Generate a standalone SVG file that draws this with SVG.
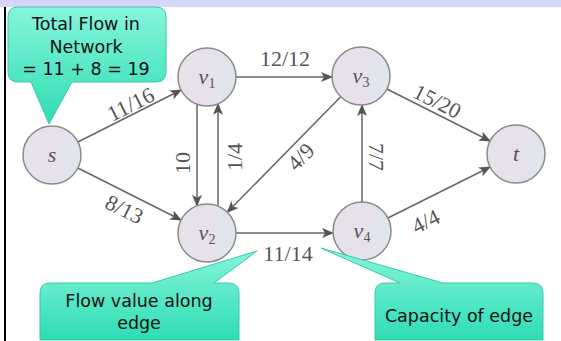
<svg xmlns="http://www.w3.org/2000/svg" width="561" height="341" viewBox="0 0 561 341">
<defs>
<marker id="arr" viewBox="0 0 12 10" refX="11" refY="5" markerWidth="13" markerHeight="10" markerUnits="userSpaceOnUse" orient="auto">
<path d="M0,0 L12,5 L0,10 L3,5 Z" fill="#555"/>
</marker>
<linearGradient id="teal" x1="0" y1="0" x2="0" y2="1">
<stop offset="0" stop-color="#86f5dc"/>
<stop offset="1" stop-color="#2edcb4"/>
</linearGradient>
<linearGradient id="nodeg" x1="0" y1="0" x2="1" y2="0">
<stop offset="0" stop-color="#e6e2ea"/>
<stop offset="0.5" stop-color="#e8e0ec"/>
<stop offset="1" stop-color="#dde6ee"/>
</linearGradient>
<style>
.node{fill:url(#nodeg);stroke:#8a8a8a;stroke-width:1.5}
.nl{font-family:"Liberation Serif",serif;font-style:italic;font-size:22px;fill:#555;text-anchor:middle}
.sub{font-size:14px;font-style:normal}
.edge{stroke:#666;stroke-width:1.5;fill:none;marker-end:url(#arr)}
.el{font-family:"Liberation Serif",serif;font-size:22px;fill:#555;text-anchor:middle}
.call{fill:url(#teal);stroke:#3cc8a8;stroke-width:1}
.ct{font-family:"Comic Sans MS","DejaVu Sans",sans-serif;font-size:17.5px;fill:#111;text-anchor:middle}
</style>
</defs>
<rect x="0" y="0" width="561" height="341" fill="#fff"/>
<rect x="0" y="0" width="561" height="7" fill="#d6d6fa"/>
<rect x="4" y="7" width="2" height="334" fill="#000"/>

<g id="connectors">
<line class="edge" x1="77.9" y1="142" x2="181.1" y2="90"/>
<line class="edge" x1="77.9" y1="168" x2="181.1" y2="220"/>
<line class="edge" x1="236" y1="77" x2="332" y2="77"/>
<line class="edge" x1="197" y1="104.2" x2="197" y2="205.8"/>
<line class="edge" x1="218" y1="206.2" x2="218" y2="103.8"/>
<line class="edge" x1="340.7" y1="96.7" x2="227.3" y2="212.3"/>
<line class="edge" x1="386.9" y1="89" x2="490.1" y2="141"/>
<line class="edge" x1="362" y1="202" x2="362" y2="105"/>
<line class="edge" x1="236" y1="233" x2="333" y2="233"/>
<line class="edge" x1="387.9" y1="218" x2="490.1" y2="167"/>
<text class="el" transform="translate(134,111) rotate(-26.7)">11/16</text>
<text class="el" transform="translate(121,216) rotate(26.7)">8/13</text>
<text class="el" x="285" y="66">12/12</text>
<text class="el" transform="translate(190,163) rotate(-90)">10</text>
<text class="el" transform="translate(242,157) rotate(-90)">1/4</text>
<text class="el" transform="translate(306,162) rotate(-45.6)">4/9</text>
<text class="el" transform="translate(434,108) rotate(26.7)">15/20</text>
<text class="el" transform="translate(369,157) rotate(90)">7/7</text>
<text class="el" x="288" y="261">11/14</text>
<text class="el" transform="translate(429,228) rotate(-26.6)">4/4</text>
</g>

<g id="s"><circle class="node" cx="52" cy="155" r="29"/><text class="nl" x="52" y="162">s</text></g>
<g id="v1"><circle class="node" cx="207" cy="77" r="29"/><text class="nl" x="207" y="84">v<tspan class="sub" dy="4">1</tspan></text></g>
<g id="v3"><circle class="node" cx="361" cy="76" r="29"/><text class="nl" x="361" y="83">v<tspan class="sub" dy="4">3</tspan></text></g>
<g id="t"><circle class="node" cx="516" cy="154" r="29"/><text class="nl" x="516" y="161">t</text></g>
<g id="v2"><circle class="node" cx="207" cy="233" r="29"/><text class="nl" x="207" y="240">v<tspan class="sub" dy="4">2</tspan></text></g>
<g id="v4"><circle class="node" cx="362" cy="231" r="29"/><text class="nl" x="362" y="238">v<tspan class="sub" dy="4">4</tspan></text></g>

<g id="callout-total">
<path class="call" d="M18,7 H156 Q166,7 166,17 V72 Q166,82 156,82 H72 L49,124 L31,82 H18 Q8,82 8,72 V17 Q8,7 18,7 Z"/>
<text class="ct" x="86" y="30">Total Flow in</text>
<text class="ct" x="86" y="53">Network</text>
<text class="ct" x="86" y="75">= 11 + 8 = 19</text>
</g>
<g id="callout-flow">
<path class="call" d="M50,283 H152 L257,251 L214,283 H229 Q239,283 239,293 V340 H40 V293 Q40,283 50,283 Z"/>
<text class="ct" x="139" y="307">Flow value along</text>
<text class="ct" x="139" y="329">edge</text>
</g>
<g id="callout-capacity">
<path class="call" d="M385,283 H400 L321,248 L443,283 H533 Q543,283 543,293 V340 H375 V293 Q375,283 385,283 Z"/>
<text class="ct" x="459" y="322">Capacity of edge</text>
</g>
</svg>
